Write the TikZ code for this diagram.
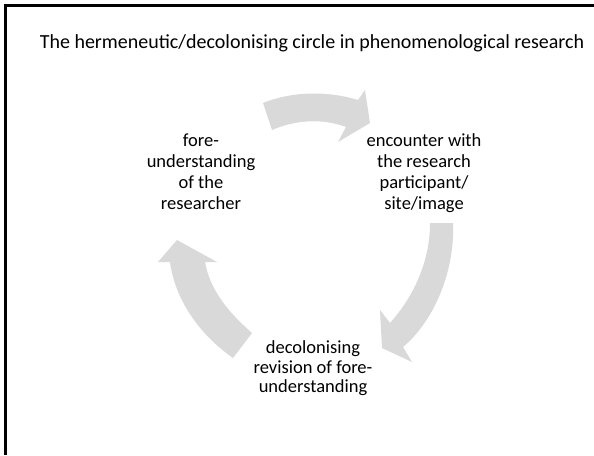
\documentclass[tikz,border=0pt]{standalone}
\usepackage{fontspec}
\setmainfont{Carlito}
\definecolor{arrowgray}{RGB}{217,217,217}
\tikzset{
  cyclearrow/.style={fill=arrowgray, draw=none},
  frameline/.style={line width=2.7pt, draw=black},
  titletext/.style={font=\fontsize{20}{24}\selectfont, inner sep=0pt, anchor=base},
  steptext/.style={font=\fontsize{18.5}{20.7}\selectfont, align=center, inner sep=0pt, anchor=base},
}
\begin{document}
\begin{tikzpicture}[x=1pt,y=-1pt]
\useasboundingbox (0,0) rectangle (594,455);
\fill[white] (0,0) rectangle (594,455);
% frame (top and left only)
\coordinate (ftl) at (5.3,5.3);
\coordinate (ftr) at (594,5.3);
\coordinate (fbl) at (5.3,455);
\draw[frameline] (ftr) -- (ftl) -- (fbl);
% title
\node[titletext] (title) at (312,48) {The hermeneutic/decolonising circle in phenomenological research};
% arrows
\path[cyclearrow] (263,103) .. controls (290,92) and (325,90) .. (358,100)
   -- (365,90) -- (370,123) -- (338,142) -- (346,127)
   .. controls (322,118) and (295,120) .. (272,130) -- cycle;
\path[cyclearrow] (430,223) -- (453,223)
   .. controls (455,270) and (435,320) .. (403,347)
   -- (412,362) -- (382,348) -- (380,310) -- (390,323)
   .. controls (415,295) and (430,260) .. (430,223) -- cycle;
\path[cyclearrow] (233,358) -- (252,333)
   .. controls (228,312) and (210,290) .. (205,262)
   -- (217,262) -- (177,240) -- (158,262) -- (170,262)
   .. controls (175,300) and (200,335) .. (233,358) -- cycle;
% texts (anchor base = baseline of the last line)
\node[steptext] (fore) at (201,209) {fore-\\understanding\\of the\\researcher};
\node[steptext] (enc) at (424,209) {encounter with\\the research\\participant/\\site/image};
\node[steptext, font=\fontsize{18.5}{19.4}\selectfont] (rev) at (313,392.5) {decolonising\\revision of fore-\\understanding};
\end{tikzpicture}
\end{document}
